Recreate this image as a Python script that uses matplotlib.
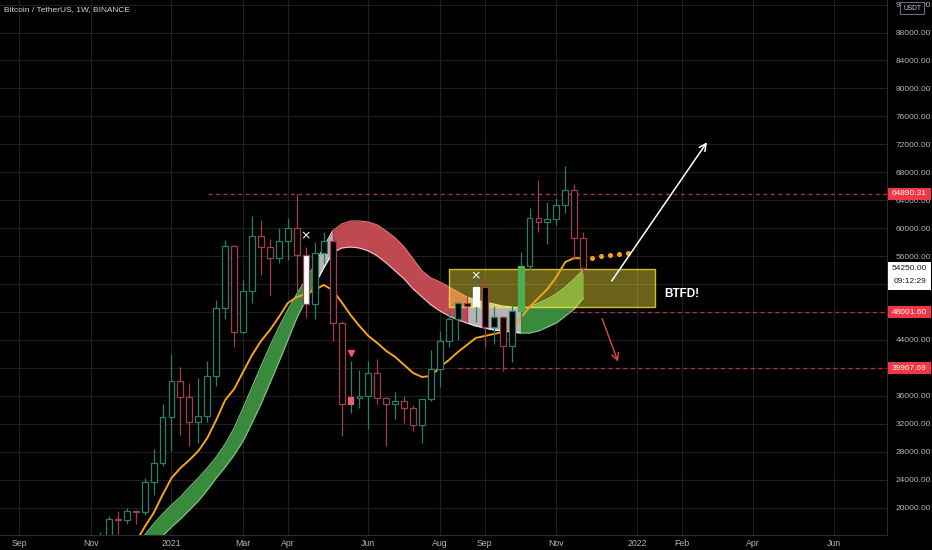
import numpy as np
import matplotlib
matplotlib.use("Agg")
import matplotlib.pyplot as plt
from matplotlib import transforms
from matplotlib.patches import Rectangle

plt.rcParams["font.family"] = ["Liberation Sans", "DejaVu Sans"]

# ─────────────────────────────────────────────────────────────
# Data (weeks counted from the 2021-01-04 weekly bar)
# ─────────────────────────────────────────────────────────────
first_week = -8
opens  = [15479, 15958, 18415, 18178, 19550, 19380, 23740, 26440,
          33000, 38150, 35830, 32260, 33090, 38800, 48600, 57450, 45140, 51000,
          58900, 57350, 55750, 58150, 60020, 56100, 49100, 56450, 58160, 46470,
          34780, 35700, 35980, 39270, 35700, 34780, 35200, 34250, 31780, 35500,
          39900, 43850, 46950, 49250, 48800, 51650, 45900, 47330, 43150, 48150,
          54600, 61500, 60860, 61300, 63270, 65470, 58600]
highs  = [16500, 18815, 19490, 19920, 19700, 24300, 28400, 34780,
          41950, 40100, 37850, 38530, 40955, 49700, 58350, 57550, 52640, 61780,
          61200, 58400, 60030, 61450, 64890, 57300, 57960, 59500, 59600, 46750,
          40990, 39700, 41000, 41330, 35900, 36600, 35950, 34650, 35400, 42600,
          45300, 48140, 49380, 50500, 52920, 52920, 48840, 47400, 49200, 56560,
          62850, 66900, 63700, 64270, 68900, 66320, 59500]
lows   = [14805, 15750, 16200, 17600, 17650, 19000, 21815, 26000,
          28130, 30420, 28850, 29240, 32300, 37370, 47000, 43000, 44950, 49300,
          53300, 50430, 55000, 55470, 51000, 47200, 46930, 54800, 43800, 30260,
          33590, 34260, 31300, 34900, 28800, 32700, 32100, 31000, 29300, 35200,
          37330, 43000, 43950, 46370, 46500, 43050, 43400, 39600, 40800, 46900,
          53900, 59500, 57800, 60450, 62125, 55600, 53600]
closes = [15958, 18415, 18178, 19550, 19380, 23740, 26440, 33000,
          38150, 35830, 32260, 33090, 38800, 48600, 57450, 45140, 51000, 58900,
          57350, 55750, 58150, 60020, 56100, 49100, 56450, 58160, 46470, 34780,
          35830, 35980, 39270, 35700, 34780, 35200, 34250, 31780, 35500, 39900,
          43850, 46950, 49250, 48800, 51650, 45900, 47330, 43150, 48150, 54600,
          61500, 60860, 61300, 63270, 65470, 58600, 54250]
# bars painted with a signal colour
highlight_faces = {15: "white", 20: "#f0606a", 34: "white", 39: "#4caf50"}

# orange moving average, from week -4
ma_first_week = -4
orange_ma = [15084, 17231, 19234, 21811, 24244, 25675, 26820, 28108, 29969,
             32545, 35407, 36981, 39414, 41848, 43851, 45425, 47286, 49290,
             50148, 50578, 51150, 51866, 51150, 49433, 47572, 45998, 44567,
             43565, 42420, 41561, 40417, 39272, 38699, 38842, 40130, 41132,
             42277, 43279, 44281, 44567, 44853, 45139, 45568, 47143, 48717,
             50005, 51293, 53011, 55158, 55730, 55659]
ma_projection_weeks = [47, 48, 49, 50, 51]
ma_projection = [55773, 56016, 56202, 56345, 56445]

# ribbon (two smoothed averages), from week -4
ribbon_upper = [14512, 16086, 17660, 19092, 20380, 21525, 22956, 24244, 25675,
                27249, 29110, 31400, 34262, 37268, 40273, 43136, 45855, 48288,
                50578, 52725, 54728, 57304, 59594, 60596, 61026, 61026, 60882,
                60453, 59594, 58593, 57304, 55587, 53869, 52868, 52295, 51580,
                50864, 50148, 49719, 49433, 49147, 48860, 48717, 48574, 48717,
                49290, 49862, 50578, 51580, 52725, 54012]
ribbon_lower = [12794, 13510, 14655, 15943, 17231, 18376, 19664, 20952, 22526,
                24244, 25818, 27536, 29540, 32116, 34835, 37840, 40846, 43994,
                47143, 49719, 51866, 54299, 56446, 57161, 57304, 57161, 56732,
                56016, 55015, 53869, 52725, 51293, 50148, 49003, 48145, 47429,
                46857, 46428, 45998, 45712, 45425, 45283, 45139, 44996, 44996,
                45283, 45855, 46428, 47429, 48431, 50005]
ribbon_state = (["g"] * 20 + ["w"] * 2 + ["r"] * 15 + ["w"] * 6 + ["g"] * 8)

# drawings
level_prices = [64890.31, 48001.60, 39967.69]
level_start_weeks = [4.1, 44.0, 32.0]
last_price = 54250.00
countdown = "09:12:29"
zone_weeks = (31.0, 54.0)
zone_prices = (48760, 54113)
cross_marks = [(15, 58878), (34, 53154)]
sell_mark = (20, 42177)
up_arrow = ((49.0, 52109), (60.0, 72618))
down_arrow = ((48.0, 47429), (50.0, 40516))
label_pos = (55.0, 50578)

price_ticks = [20000, 24000, 28000, 32000, 36000, 40000, 44000, 48000, 52000,
               56000, 60000, 64000, 68000, 72000, 76000, 80000, 84000, 88000, 92000]
date_tick_weeks = [-17, -9, 0, 8, 13, 22, 30, 35, 43, 52, 57, 65, 74]
date_tick_labels = ["Sep", "Nov", "2021", "Mar", "Apr", "Jun", "Aug", "Sep",
                    "Nov", "2022", "Feb", "Apr", "Jun"]

# ─────────────────────────────────────────────────────────────
# Figure
# ─────────────────────────────────────────────────────────────
BG = "black"
TXT = "#b2b5be"
UP, DOWN = "#25806a", "#a23c4e"
W, H = 932, 550

fig = plt.figure(figsize=(W / 100, H / 100), dpi=100, facecolor=BG)
ax = fig.add_axes([0, 15 / H, 887 / W, 535 / H], facecolor=BG)
YMIN, YMAX = 16086, 92655
XMIN, XMAX = -19.16, 79.94
ax.set_xlim(XMIN, XMAX)
ax.set_ylim(YMIN, YMAX)
ppu = 535 / (YMAX - YMIN)  # pixels per price unit

# ribbon
rx = np.arange(len(ribbon_upper)) + ma_first_week
ru, rl = np.array(ribbon_upper), np.array(ribbon_lower)
fills = {"g": "#3a8a3e", "w": "#b4b4b4", "r": "#c04850"}
edges = {"g": ("#7bc47f", "#7bc47f"), "w": ("#e6e6e6", "#f4f4f4"), "r": ("#e57373", "#f6c6c6")}
i = 0
while i < len(rx) - 1:
    j = i
    while j + 1 < len(rx) - 1 and ribbon_state[j + 1] == ribbon_state[i]:
        j += 1
    s = slice(i, j + 2)
    st = ribbon_state[i]
    ax.fill_between(rx[s], rl[s], ru[s], color=fills[st], lw=0, zorder=1)
    ax.plot(rx[s], ru[s], color=edges[st][0], lw=0.8, zorder=1.2)
    ax.plot(rx[s], rl[s], color=edges[st][1], lw=0.8, zorder=1.2)
    i = j + 1

# buy zone
ax.add_patch(Rectangle((zone_weeks[0], zone_prices[0]), zone_weeks[1] - zone_weeks[0],
                       zone_prices[1] - zone_prices[0],
                       facecolor=(1, 0.92, 0.23, 0.42), edgecolor=(1, 0.92, 0.23, 0.75),
                       lw=1, zorder=2))

# orange average + projection dots
mx = np.arange(len(orange_ma)) + ma_first_week
ax.plot(mx, orange_ma, color="#f7a21b", lw=1.4, zorder=3)
ax.plot(ma_projection_weeks, ma_projection, ls="none", marker="o", ms=2.6,
        color="#f7a21b", zorder=3)

# candles
cx = np.arange(len(opens)) + first_week
for k, o, h, l, c in zip(cx, opens, highs, lows, closes):
    col = UP if c >= o else DOWN
    face = highlight_faces.get(int(k), BG)
    ax.vlines(k, l, h, color=col, lw=0.9, zorder=4)
    lo, hi = min(o, c), max(o, c)
    hi = max(hi, lo + 150)
    ecol = face if face in ("#f0606a", "#4caf50") else col
    if int(k) == 34:
        ecol = "white"
    ax.add_patch(Rectangle((k - 0.33, lo), 0.66, hi - lo, facecolor=face,
                           edgecolor=ecol, lw=0.9, zorder=5))

# signal marks
for k, p in cross_marks:
    ax.text(k, p, "×", color="white", fontsize=9, ha="center", va="center",
            family="DejaVu Sans", zorder=6)
ax.plot(*sell_mark, marker="v", ms=4.5, color="#f05a5a", ls="none", zorder=6)

# horizontal levels
for p, k0 in zip(level_prices, level_start_weeks):
    ax.plot([k0, XMAX], [p, p], color="#c8303d", lw=0.9, ls=(0, (3, 3)), zorder=2.5)

# arrows and label
ax.annotate("", xy=up_arrow[1], xytext=up_arrow[0],
            arrowprops=dict(arrowstyle="->,head_length=0.5,head_width=0.25",
                            color="white", lw=1.1), zorder=6)
ax.annotate("", xy=down_arrow[1], xytext=down_arrow[0],
            arrowprops=dict(arrowstyle="->,head_length=0.5,head_width=0.25",
                            color="#e0464f", lw=1.0), zorder=6)
ax.text(label_pos[0], label_pos[1], "BTFD!", color="white", fontsize=8.5,
        fontweight="bold", ha="left", va="center", zorder=6)

# axes styling
ax.grid(True, color="#1f1f1f", lw=0.8, zorder=0)
ax.set_axisbelow(True)
for side in ("top", "left"):
    ax.spines[side].set_visible(False)
for side in ("right", "bottom"):
    ax.spines[side].set_color("#2b2b2b")
ax.yaxis.tick_right()
ax.set_yticks(price_ticks)
# tick labels fully hidden under a price tag are left blank
ylabels = []
for v in price_ticks:
    covered = any(abs(v - p) * ppu < 4 for p in level_prices)
    covered |= -19 < (v - last_price) * ppu < 3
    ylabels.append("" if covered else f"{v:.2f}")
ax.set_yticklabels(ylabels)
ax.tick_params(axis="y", length=0, pad=6, labelsize=6.0, colors=TXT)
ax.set_xticks(date_tick_weeks)
ax.set_xticklabels(date_tick_labels)
ax.tick_params(axis="x", length=0, pad=3, labelsize=6.3, colors=TXT)

# price-scale labels
blend = transforms.blended_transform_factory(fig.transFigure, ax.transData)
x0, bw = 888 / W, 43 / W
for p in level_prices:
    ax.add_patch(Rectangle((x0, p - 6 / ppu), bw, 12 / ppu, transform=blend,
                           facecolor="#f23645", lw=0, clip_on=False, zorder=7))
    ax.text(x0 + bw / 2, p, f"{p:.2f}", transform=blend, color="white",
            fontsize=6.0, ha="center", va="center", clip_on=False, zorder=8)
ax.add_patch(Rectangle((x0, last_price - 22 / ppu), bw, 28 / ppu, transform=blend,
                       facecolor="white", lw=0, clip_on=False, zorder=7))
ax.text(x0 + bw / 2, last_price, f"{last_price:.2f}", transform=blend,
        color="#131722", fontsize=6.0, ha="center", va="center", zorder=8)
ax.text(x0 + bw / 2, last_price - 13 / ppu, countdown, transform=blend,
        color="#131722", fontsize=6.0, ha="center", va="center", zorder=8)

# currency box and title
fig.patches.append(Rectangle((900 / W, 1 - 14 / H), 24 / W, 12 / H,
                             transform=fig.transFigure, facecolor=BG,
                             edgecolor="#6a6d78", lw=0.8, zorder=10))
fig.text(912 / W, 1 - 8 / H, "USDT", color="#d1d4dc", fontsize=4.8,
         ha="center", va="center", zorder=11)
fig.text(4 / W, 1 - 10 / H, "Bitcoin / TetherUS, 1W, BINANCE", color="#d1d4dc",
         fontsize=6.0, ha="left", va="center")

fig.savefig("out.png", dpi=100, facecolor=BG)
